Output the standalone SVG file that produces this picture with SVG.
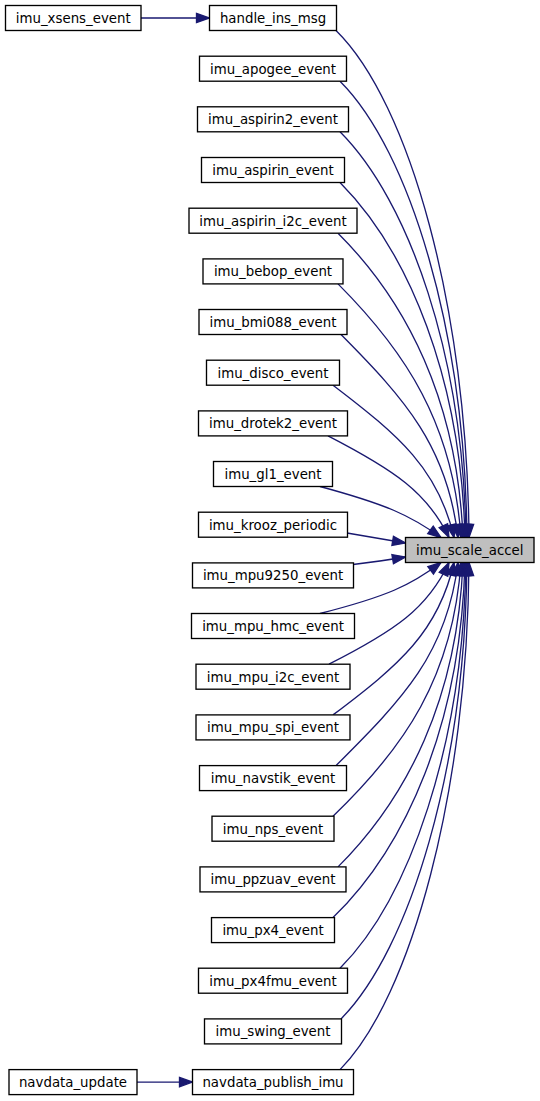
<svg xmlns="http://www.w3.org/2000/svg" width="540" height="1101" viewBox="0 0 540 1101">
<style>
.n rect{fill:#ffffff;stroke:#000000;stroke-width:1.33}
.root rect{fill:#bfbfbf}
.n text{font-family:"DejaVu Sans","Liberation Sans",sans-serif;font-size:13.33px;fill:#000000;text-anchor:middle}
.e path{fill:none;stroke:#191970;stroke-width:1.33;marker-end:url(#ah)}
</style>
<defs>
<marker id="ah" markerUnits="userSpaceOnUse" markerWidth="16" markerHeight="12" refX="13" refY="4.67" orient="auto" overflow="visible">
<path d="M0,0 L13,4.67 L0,9.33 Z" fill="#191970" stroke="#191970" stroke-width="1.33"/>
</marker>
</defs>
<rect x="0" y="0" width="540" height="1101" fill="#ffffff"/>
<g id="edges" class="e">
<path d="M141,18 L209.5,18"/>
<path d="M137,1082.1 L192.5,1082.1"/>
<path d="M336,30.5 C409.6,102.6 467.4,309.4 469,537.5"/>
<path d="M340,81.2 C409.9,150.9 464.9,332.3 467,537.5"/>
<path d="M340,131.8 C409.3,201.3 463.1,355.3 466,537.5"/>
<path d="M340,182.5 C408.8,251.8 460.9,378.3 465,537.5"/>
<path d="M338,233.2 C406.8,301.8 457.3,400.8 463,537.5"/>
<path d="M338,283.9 C405.7,351.7 453.1,423.7 461,537.5"/>
<path d="M341,334.5 C405.4,399.4 447.4,446.7 458,537.5"/>
<path d="M333,385.2 C399.6,435.9 438.6,469.6 454,537.5"/>
<path d="M328,435.9 C394.6,470.3 427.4,492.6 449,537.5"/>
<path d="M320,486.5 C386.6,504.5 410.7,515.5 441,537.5"/>
<path d="M347,533 C365,536 385,539.5 405.5,543"/>
<path d="M353,564.5 C370,562.5 388,560 405.5,557"/>
<path d="M320,613.5 C386.6,596.5 410.7,585.5 441,562.5"/>
<path d="M329,664.2 C395,630.7 427.6,608.5 449,562.5"/>
<path d="M333,714.9 C399.6,664.8 438.6,631.4 454,562.5"/>
<path d="M336,765.6 C403.1,698.6 446.9,653.9 458,562.5"/>
<path d="M333,816.2 C404.3,747.7 452.9,677.3 461,562.5"/>
<path d="M338,866.9 C406.8,798.3 457.2,699.8 463,562.5"/>
<path d="M333,917.6 C406.5,846.5 460.7,722.8 465,562.5"/>
<path d="M340,968.2 C409.3,898.7 463,745.3 466,562.5"/>
<path d="M341,1018.9 C410.3,948.7 464.9,767.8 467,562.5"/>
<path d="M340,1069.6 C411,998 467.5,790.7 469,562.5"/>
</g>
<g id="imu_scale_accel" class="n root"><rect x="405.5" y="537.5" width="128.5" height="25"/><text x="469.75" y="554.8">imu_scale_accel</text></g>
<g id="imu_xsens_event" class="n"><rect x="5.5" y="5.5" width="135.5" height="25"/><text x="73.25" y="22.8">imu_xsens_event</text></g>
<g id="navdata_update" class="n"><rect x="9" y="1069.6" width="128" height="25"/><text x="73" y="1086.9">navdata_update</text></g>
<g id="handle_ins_msg" class="n"><rect x="209.5" y="5.5" width="127" height="25"/><text x="273" y="22.8">handle_ins_msg</text></g>
<g id="imu_apogee_event" class="n"><rect x="199.5" y="56.2" width="147" height="25"/><text x="273" y="73.5">imu_apogee_event</text></g>
<g id="imu_aspirin2_event" class="n"><rect x="197.5" y="106.8" width="151" height="25"/><text x="273" y="124.1">imu_aspirin2_event</text></g>
<g id="imu_aspirin_event" class="n"><rect x="201.5" y="157.5" width="143" height="25"/><text x="273" y="174.8">imu_aspirin_event</text></g>
<g id="imu_aspirin_i2c_event" class="n"><rect x="189" y="208.2" width="168" height="25"/><text x="273" y="225.5">imu_aspirin_i2c_event</text></g>
<g id="imu_bebop_event" class="n"><rect x="203" y="258.9" width="140" height="25"/><text x="273" y="276.2">imu_bebop_event</text></g>
<g id="imu_bmi088_event" class="n"><rect x="199" y="309.5" width="148" height="25"/><text x="273" y="326.8">imu_bmi088_event</text></g>
<g id="imu_disco_event" class="n"><rect x="206.5" y="360.2" width="133" height="25"/><text x="273" y="377.5">imu_disco_event</text></g>
<g id="imu_drotek2_event" class="n"><rect x="198.5" y="410.9" width="149" height="25"/><text x="273" y="428.2">imu_drotek2_event</text></g>
<g id="imu_gl1_event" class="n"><rect x="213.5" y="461.5" width="119" height="25"/><text x="273" y="478.8">imu_gl1_event</text></g>
<g id="imu_krooz_periodic" class="n"><rect x="198.5" y="512.2" width="149" height="25"/><text x="273" y="529.5">imu_krooz_periodic</text></g>
<g id="imu_mpu9250_event" class="n"><rect x="192.5" y="562.9" width="161" height="25"/><text x="273" y="580.2">imu_mpu9250_event</text></g>
<g id="imu_mpu_hmc_event" class="n"><rect x="191.5" y="613.5" width="163" height="25"/><text x="273" y="630.8">imu_mpu_hmc_event</text></g>
<g id="imu_mpu_i2c_event" class="n"><rect x="196" y="664.2" width="154" height="25"/><text x="273" y="681.5">imu_mpu_i2c_event</text></g>
<g id="imu_mpu_spi_event" class="n"><rect x="196" y="714.9" width="154" height="25"/><text x="273" y="732.2">imu_mpu_spi_event</text></g>
<g id="imu_navstik_event" class="n"><rect x="199.5" y="765.6" width="147" height="25"/><text x="273" y="782.9">imu_navstik_event</text></g>
<g id="imu_nps_event" class="n"><rect x="212" y="816.2" width="122" height="25"/><text x="273" y="833.5">imu_nps_event</text></g>
<g id="imu_ppzuav_event" class="n"><rect x="200" y="866.9" width="146" height="25"/><text x="273" y="884.2">imu_ppzuav_event</text></g>
<g id="imu_px4_event" class="n"><rect x="211.5" y="917.6" width="123" height="25"/><text x="273" y="934.9">imu_px4_event</text></g>
<g id="imu_px4fmu_event" class="n"><rect x="198.5" y="968.2" width="149" height="25"/><text x="273" y="985.5">imu_px4fmu_event</text></g>
<g id="imu_swing_event" class="n"><rect x="204.5" y="1018.9" width="137" height="25"/><text x="273" y="1036.2">imu_swing_event</text></g>
<g id="navdata_publish_imu" class="n"><rect x="192.5" y="1069.6" width="161" height="25"/><text x="273" y="1086.9">navdata_publish_imu</text></g>
</svg>
